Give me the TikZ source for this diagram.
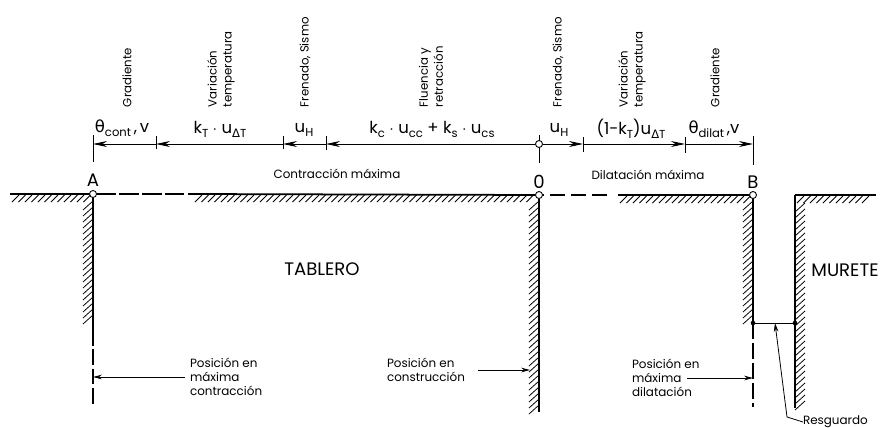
\documentclass[tikz,border=0pt]{standalone}
\usepackage{xcolor}
\usepackage{fontspec}
\setmainfont{Poppins}
\newfontfamily\greekfont{DejaVu Sans}
\usetikzlibrary{arrows.meta, positioning}
\tikzstyle{arrow} = [line width=0.45pt,-{Stealth[length=8pt,width=3.4pt]}]
\tikzstyle{smallarrow} = [line width=0.45pt,-{Stealth[length=5pt,width=2.6pt]}]
\newcommand{\lowtxt}[1]{\raisebox{-0.45ex}{\fontsize{6.6}{7}\selectfont #1}}

\begin{document}
\begin{tikzpicture}[x=0.02cm, y=-0.02cm, inner sep=0pt, outer sep=0pt,
            hinge/.style={circle, draw=black, fill=white, line width=0.5pt, minimum size=4pt},
            dotend/.style={circle, fill=black, minimum size=2.6pt},
            vertlabel/.style={rotate=90, anchor=west, font=\fontsize{6.7}{8.6}\selectfont, align=left},
            amount/.style={font=\fontsize{9.4}{11}\selectfont},
            remark/.style={font=\fontsize{6.8}{8}\selectfont, align=left},
            title/.style={font=\fontsize{10.3}{12}\selectfont},
            edge/.style={line width=1pt},
            wall/.style={line width=1.1pt},
            hatch/.style={line width=0.45pt},
            tick/.style={line width=0.45pt}]
            \useasboundingbox (0,0) rectangle (880,427);

            % Dimension line
            \coordinate (ta) at (93,144);
            \coordinate (tb) at (156,144);
            \coordinate (tc) at (283,144);
            \coordinate (td) at (326,144);
            \node[hinge] (to) at (539,144) {};
            \coordinate (te) at (583,144);
            \coordinate (tf) at (685,144);
            \coordinate (tg) at (753,144);

            \draw[tick] (93,135) -- (93,162);
            \draw[tick] (156,136) -- (156,149);
            \draw[tick] (283,136) -- (283,149);
            \draw[tick] (326,136) -- (326,150);
            \draw[tick] (539,135) -- (to) -- (539,163);
            \draw[tick] (583,137) -- (583,152);
            \draw[tick] (685,137) -- (685,153);
            \draw[tick] (753,136) -- (753,165);

            \draw[arrow] (tb) -- (ta);
            \draw[arrow] (tc) -- (tb);
            \draw[arrow] (td) -- (tc);
            \draw[arrow] (to) -- (td);
            \draw[arrow] (to) -- (te);
            \draw[arrow] (te) -- (tf);
            \draw[arrow] (tf) -- (tg);

            % Amounts
            \node[amount] (thc) at (122,128) {{\greekfont θ}\lowtxt{cont}\,,\,v};
            \node[amount] (kt) at (220,129) {k\lowtxt{T} $\cdot$ u\lowtxt{{\greekfont Δ}T}};
            \node[amount] (uha) at (304,130) {u\lowtxt{H}};
            \node[amount] (kc) at (432,129) {k\lowtxt{c} $\cdot$ u\lowtxt{cc} + k\lowtxt{s} $\cdot$ u\lowtxt{cs}};
            \node[amount] (uhb) at (559,130) {u\lowtxt{H}};
            \node[amount] (kd) at (631,129) {(1-k\lowtxt{T})u\lowtxt{{\greekfont Δ}T}};
            \node[amount] (thd) at (714,129) {{\greekfont θ}\lowtxt{dilat}\,,v};

            % Vertical labels
            \node[vertlabel] (grada) at (127,107) {Gradiente};
            \node[vertlabel] (vara) at (221,107) {Variación\\temperatura};
            \node[vertlabel] (frea) at (305,107) {Frenado, Sismo};
            \node[vertlabel] (flu) at (431,107) {Fluencia y\\retracción};
            \node[vertlabel] (freb) at (558,107) {Frenado, Sismo};
            \node[vertlabel] (varb) at (632,107) {Variación\\temperatura};
            \node[vertlabel] (gradb) at (715,107) {Gradiente};

            \node[remark] (cmax) at (337,174) {Contracción máxima};
            \node[remark] (dmax) at (648,175) {Dilatación máxima};

            % Bearing points
            \node[hinge] (a) at (93,194) {};
            \node[hinge] (o) at (539,195) {};
            \node[hinge] (b) at (753,195) {};
            \node[title, above=2pt of a] (la) {A};
            \node[title, above=1.5pt of o] (lo) {0};
            \node[title, above=1.5pt of b] (lb) {B};

            % Deck and wall edges
            \coordinate (gl) at (10,194);
            \coordinate (gm) at (195,194);
            \coordinate (gn) at (608,195);
            \coordinate (gp) at (618,195);
            \coordinate (gq) at (795,195);
            \coordinate (gr) at (876,195);
            \coordinate (ae) at (93,330);
            \coordinate (af) at (93,407);
            \coordinate (oe) at (539,412);
            \coordinate (be) at (753,323);
            \coordinate (bf) at (753,407);
            \coordinate (me) at (795,408);

            \draw[edge] (gl) -- (a);
            \draw[edge, dash pattern=on 11pt off 2pt] (a) -- (gm);
            \draw[edge] (gm) -- (o);
            \draw[edge, dash pattern=on 8.5pt off 3.4pt, dash phase=7.4pt] (o) -- (gn);
            \draw[edge] (gp) -- (b);
            \draw[edge] (gq) -- (gr);
            \draw[wall] (a) -- (ae);
            \draw[wall, dash pattern=on 9pt off 2pt] (ae) -- (af);
            \draw[wall] (o) -- (oe);
            \draw[wall] (b) -- (be);
            \draw[wall, dash pattern=on 9pt off 2.4pt] (be) -- (bf);
            \draw[wall] (gq) -- (me);

            % Hatching
            \foreach \x in {12,18.5,...,84} \draw[hatch] (\x,202) -- ++(7,-7);
            \foreach \x in {195,201.5,...,532} \draw[hatch] (\x,202) -- ++(7,-7);
            \foreach \x in {620,626.5,...,745} \draw[hatch] (\x,203) -- ++(7,-7);
            \foreach \x in {797,803.5,...,868} \draw[hatch] (\x,203) -- ++(7,-7);
            \foreach \y in {210,216,...,326} \draw[hatch] (83,\y) -- ++(10,-9);
            \foreach \y in {210,216,...,414} \draw[hatch] (529,\y) -- ++(10,-9);
            \foreach \y in {210,216,...,324} \draw[hatch] (743,\y) -- ++(10,-9);
            \foreach \y in {212,218,...,410} \draw[hatch] (795,\y) -- ++(10,-9);

            % Clearance
            \node[dotend] (ca) at (753,323) {};
            \node[dotend] (cb) at (795,323) {};
            \coordinate (cm) at (775,323);
            \coordinate (cn) at (787,417);
            \draw[tick] (ca) -- (cb);
            \node[remark, anchor=west] (res) at (803,422) {Resguardo};
            \draw[smallarrow] (res.west) -- (cn) -- (cm);

            % Names
            \node[title] (tab) at (322,269) {TABLERO};
            \node[title] (mur) at (845,270) {MURETE};

            % Position notes
            \node[remark, anchor=west] (pa) at (190,377) {Posición en\\máxima\\contracción};
            \node[remark, anchor=west] (pb) at (387,370) {Posición en\\construcción};
            \node[remark, anchor=west] (pc) at (632,378) {Posición en\\máxima\\dilatación};
            \coordinate (pas) at (185,377);
            \coordinate (pae) at (93,377);
            \coordinate (pbs) at (478,370);
            \coordinate (pbe) at (530,370);
            \coordinate (pcs) at (687,378);
            \coordinate (pce) at (753,378);
            \draw[smallarrow] (pas) -- (pae);
            \draw[smallarrow] (pbs) -- (pbe);
            \draw[smallarrow] (pcs) -- (pce);
\end{tikzpicture}
\end{document}
